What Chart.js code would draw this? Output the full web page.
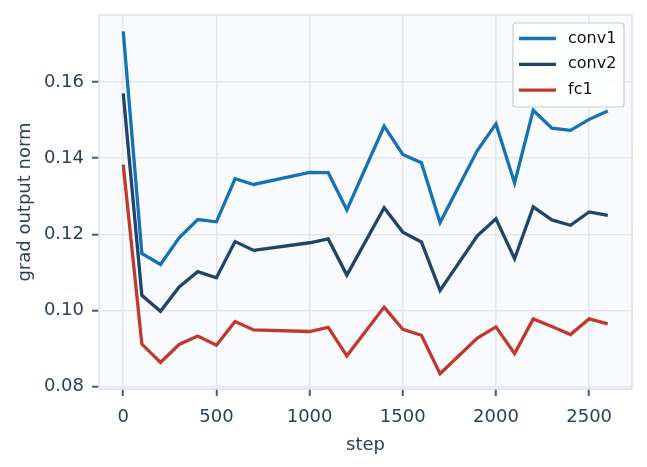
<!DOCTYPE html>
<html>
<head>
<meta charset="utf-8">
<script src="https://cdn.jsdelivr.net/npm/chart.js@4.4.0/dist/chart.umd.min.js"></script>
<style>
  html, body { margin: 0; padding: 0; background: #ffffff; }
  #wrap { width: 647px; height: 467px; }
</style>
</head>
<body>
<div id="wrap"><canvas id="gradChart" width="647" height="467"></canvas></div>
<script>
// Gradient output norm per layer
const steps = [0, 100, 200, 300, 400, 500, 600, 700, 1000, 1100, 1200, 1400, 1500, 1600, 1700, 1900, 2000, 2100, 2200, 2300, 2400, 2500, 2600];
const conv1 = [0.1733, 0.1150, 0.1121, 0.1191, 0.1239, 0.1233, 0.1346, 0.1331, 0.1363, 0.1362, 0.1264, 0.1484, 0.1410, 0.1388, 0.1231, 0.1420, 0.1490, 0.1335, 0.1526, 0.1479, 0.1473, 0.1502, 0.1524];
const conv2 = [0.1570, 0.1040, 0.0998, 0.1062, 0.1102, 0.1086, 0.1181, 0.1158, 0.1178, 0.1188, 0.1093, 0.1270, 0.1206, 0.1180, 0.1053, 0.1196, 0.1241, 0.1136, 0.1272, 0.1238, 0.1224, 0.1259, 0.1250];
const fc1 = [0.1383, 0.0912, 0.0864, 0.0911, 0.0933, 0.0909, 0.0971, 0.0949, 0.0945, 0.0956, 0.0881, 0.1009, 0.0951, 0.0935, 0.0834, 0.0928, 0.0957, 0.0887, 0.0978, 0.0958, 0.0937, 0.0978, 0.0965];
const xTicks = [0, 500, 1000, 1500, 2000, 2500];
const yTicks = [0.08, 0.10, 0.12, 0.14, 0.16];

const FONT = 'DejaVu Sans, sans-serif';
const TEXT_COLOR = '#2a3f5f';
const GRID_COLOR = '#e2e6ee';
const TICK_COLOR = '#4a5b72';
const LINE_W = 3.3;

function toPoints(values) {
    return steps.map((s, i) => ({ x: s, y: values[i] }));
}

// Plot background + frame
const frame = {
    id: 'frame',
    beforeDraw(chart) {
        const { ctx, chartArea: a } = chart;
        ctx.save();
        ctx.fillStyle = '#f8fafd';
        ctx.fillRect(a.left, a.top, a.right - a.left, a.bottom - a.top);
        ctx.restore();
    },
    afterDatasetsDraw(chart) {
        const { ctx, chartArea: a } = chart;
        ctx.save();
        ctx.strokeStyle = '#dde2ea';
        ctx.lineWidth = 1.5;
        ctx.strokeRect(a.left, a.top, a.right - a.left, a.bottom - a.top);
        ctx.restore();
    }
};

// Legend drawn inside the plot, upper right
const innerLegend = {
    id: 'innerLegend',
    afterDraw(chart) {
        const { ctx, chartArea: a } = chart;
        const sets = chart.data.datasets;
        const boxW = 111, boxH = 84;
        const x0 = a.right - 8 - boxW, y0 = a.top + 8;
        ctx.save();
        ctx.fillStyle = 'rgba(255,255,255,0.85)';
        ctx.strokeStyle = '#cccccc';
        ctx.lineWidth = 1.2;
        ctx.beginPath();
        ctx.roundRect(x0, y0, boxW, boxH, 3);
        ctx.fill();
        ctx.stroke();
        ctx.font = '16px ' + FONT;
        ctx.textBaseline = 'middle';
        sets.forEach((ds, i) => {
            const y = y0 + 15.5 + i * 25.8;
            ctx.strokeStyle = ds.borderColor;
            ctx.lineWidth = LINE_W;
            ctx.beginPath();
            ctx.moveTo(x0 + 6, y);
            ctx.lineTo(x0 + 43, y);
            ctx.stroke();
            ctx.fillStyle = '#111111';
            ctx.fillText(ds.label, x0 + 55, y);
        });
        ctx.restore();
    }
};

const ctx = document.getElementById('gradChart').getContext('2d');
new Chart(ctx, {
    type: 'line',
    data: {
        datasets: [
            { label: 'conv1', data: toPoints(conv1), borderColor: '#1572b6', borderWidth: LINE_W },
            { label: 'conv2', data: toPoints(conv2), borderColor: '#22446b', borderWidth: LINE_W },
            { label: 'fc1', data: toPoints(fc1), borderColor: '#c0392b', borderWidth: LINE_W }
        ]
    },
    options: {
        responsive: false,
        animation: false,
        layout: { padding: { top: 15, right: 15, left: 15, bottom: 0 } },
        elements: {
            line: { tension: 0, borderCapStyle: 'butt', borderJoinStyle: 'miter' },
            point: { radius: 0 }
        },
        plugins: {
            legend: { display: false },
            tooltip: { enabled: false }
        },
        scales: {
            x: {
                type: 'linear',
                min: -130,
                max: 2730,
                afterBuildTicks(scale) { scale.ticks = xTicks.map(v => ({ value: v })); },
                afterFit(scale) {
                    scale.height = 78;
                    scale.paddingLeft = 0;
                    scale.paddingRight = 0;
                },
                ticks: {
                    color: TEXT_COLOR,
                    font: { family: FONT, size: 18 },
                    padding: 11,
                    maxRotation: 0,
                    callback: v => String(v)
                },
                grid: {
                    color: GRID_COLOR,
                    lineWidth: 1.5,
                    tickColor: TICK_COLOR,
                    tickLength: 7,
                    tickWidth: 2
                },
                border: { display: false },
                title: {
                    display: true,
                    text: 'step',
                    color: TEXT_COLOR,
                    font: { family: FONT, size: 18 },
                    padding: { top: 2, bottom: 11 }
                }
            },
            y: {
                type: 'linear',
                min: 0.0794,
                max: 0.1776,
                afterBuildTicks(scale) { scale.ticks = yTicks.map(v => ({ value: v })); },
                afterFit(scale) {
                    scale.width = 84;
                    scale.paddingTop = 0;
                    scale.paddingBottom = 0;
                },
                ticks: {
                    color: TEXT_COLOR,
                    font: { family: FONT, size: 18 },
                    padding: 8,
                    callback: v => v.toFixed(2)
                },
                grid: {
                    color: GRID_COLOR,
                    lineWidth: 1.5,
                    tickColor: TICK_COLOR,
                    tickLength: 7,
                    tickWidth: 2
                },
                border: { display: false },
                title: {
                    display: true,
                    text: 'grad output norm',
                    color: TEXT_COLOR,
                    font: { family: FONT, size: 18 },
                    padding: { top: 0, bottom: 4 }
                }
            }
        }
    },
    plugins: [frame, innerLegend]
});
</script>
</body>
</html>
